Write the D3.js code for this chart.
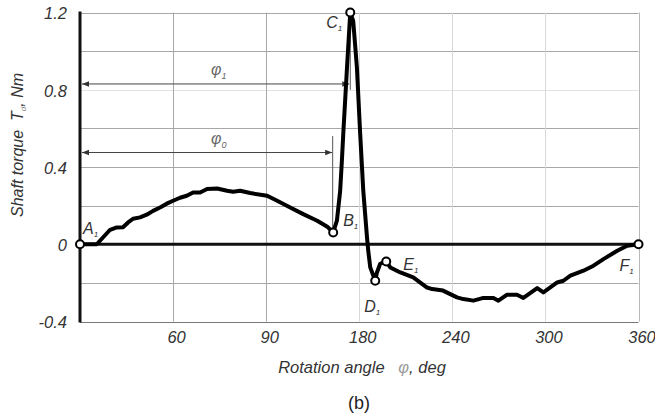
<!DOCTYPE html>
<html>
<head>
<meta charset="utf-8">
<script src="https://cdn.jsdelivr.net/npm/d3@7"></script>
<style>
  html, body { margin: 0; padding: 0; background: #fff; }
  svg { display: block; font-family: "Liberation Sans", Arial, sans-serif; }
</style>
</head>
<body>
<svg id="chart" width="655" height="414"></svg>
<script>
// ---- data ----
const angle = [0, 10.8, 14.8, 19.4, 23.7, 27.7, 31, 34.2, 38.7, 43, 47.1, 51.6, 55.9, 60, 64.5, 68.8, 72.9, 77.4, 81.9, 88.4, 94.8, 98.7, 103.2, 109.7, 120.6, 127.1, 135.5, 143.9, 152.9, 159.4, 163.2,
  165.6, 167.7, 168.8, 169.7, 172.1, 174.2, 176.1, 178.5, 180.6, 182.6, 185, 185.8, 187.1, 190.3,
  191.4, 193.5, 197.4, 200, 206.5, 214.8, 223.7, 227, 234, 243, 247.1, 253.6, 260, 266.5, 269.7, 275.3, 281.7, 285.8, 294.7, 298.7, 307.6, 311.6, 316.1, 324.5, 331, 337.4, 346.3, 352.7, 360];
const torque = [0, 0, 0.035, 0.075, 0.087, 0.088, 0.113, 0.132, 0.139, 0.153, 0.173, 0.19, 0.21, 0.225, 0.241, 0.251, 0.268, 0.268, 0.286, 0.289, 0.277, 0.272, 0.277, 0.265, 0.251, 0.225, 0.19, 0.156, 0.122, 0.091, 0.061,
  0.122, 0.277, 0.432, 0.572, 0.915, 1.2, 1.157, 0.915, 0.572, 0.277, 0.035, -0.034, -0.12, -0.189,
  -0.146, -0.101, -0.089, -0.12, -0.146, -0.172, -0.224, -0.232, -0.24, -0.275, -0.284, -0.292, -0.278, -0.278, -0.292, -0.261, -0.261, -0.278, -0.227, -0.249, -0.198, -0.189, -0.163, -0.137, -0.111, -0.077, -0.034, -0.008, 0];

const pointNames = ["A", "B", "C", "D", "E", "F"];
const pointAngles = [0, 163.2, 174.2, 190.3, 197.4, 360];
const pointTorques = [0, 0.061, 1.2, -0.189, -0.089, 0];

const xTickValues = [60, 120, 180, 240, 300, 360];
const xTickLabels = ["60", "90", "180", "240", "300", "360"];
const yTickValues = [1.2, 0.8, 0.4, 0, -0.4];
const yTickLabels = ["1.2", "0.8", "0.4", "0", "-0.4"];
const yGridValues = [1.2, 1.0, 0.8, 0.6, 0.4, 0.2, -0.2, -0.4];
const xGridValues = [60, 120, 180, 240, 300, 360];

const phiAngles = [174.2, 163.2];   // φ1, φ0
const phiLevels = [0.83, 0.475];    // torque level of dimension arrows

// ---- drawing ----
const FONT = "Liberation Sans, Arial, sans-serif";
const svg = d3.select("#chart");
const x = d3.scaleLinear().domain([0, 360]).range([80, 638.5]);
const y = d3.scaleLinear().domain([-0.4, 1.2]).range([321.5, 12.5]);

const defs = svg.append("defs");
["arrEnd", "arrStart"].forEach((id, i) => {
  defs.append("marker").attr("id", id).attr("viewBox", "0 0 10 10")
    .attr("refX", i === 0 ? 10 : 0).attr("refY", 5)
    .attr("markerWidth", 11).attr("markerHeight", 7).attr("markerUnits", "userSpaceOnUse")
    .attr("orient", "auto")
    .append("path").attr("d", i === 0 ? "M0,1 L10,5 L0,9 Z" : "M10,1 L0,5 L10,9 Z").attr("fill", "#333");
});

// grid
const faintY = new Set([0.8]);
svg.append("g").selectAll("line").data(yGridValues).join("line")
  .attr("x1", x(0)).attr("x2", x(360))
  .attr("y1", d => Math.round(y(d)) + 0.5).attr("y2", d => Math.round(y(d)) + 0.5)
  .attr("stroke", d => faintY.has(d) ? "#e2e2e2" : (d === -0.4 ? "#777" : "#a8a8a8")).attr("stroke-width", 1);
svg.append("g").selectAll("line").data(xGridValues).join("line")
  .attr("x1", d => Math.round(x(d)) + 0.5).attr("x2", d => Math.round(x(d)) + 0.5)
  .attr("y1", y(1.2)).attr("y2", y(-0.4))
  .attr("stroke", d => d <= 120 ? "#a8a8a8" : (d === 360 ? "#b8b8b8" : "#d8d8d8")).attr("stroke-width", 1);

// axes via d3 axis generators (labels only)
const xAxis = d3.axisBottom(x).tickValues(xTickValues)
  .tickFormat((d, i) => xTickLabels[i]).tickSize(0).tickPadding(0);
const gx = svg.append("g").attr("transform", `translate(3,${y(-0.4) + 10})`).call(xAxis);
gx.select(".domain").remove();
gx.selectAll("text").attr("font-size", 16.5).attr("font-style", "italic").attr("fill", "#333")
  .attr("font-family", FONT);

const yAxis = d3.axisLeft(y).tickValues(yTickValues)
  .tickFormat((d, i) => yTickLabels[i]).tickSize(0).tickPadding(0);
const gy = svg.append("g").attr("transform", `translate(67,1)`).call(yAxis);
gy.select(".domain").remove();
gy.selectAll("text").attr("font-size", 16.5).attr("font-style", "italic").attr("fill", "#333")
  .attr("font-family", FONT);

// zero line & y axis line
svg.append("line").attr("x1", x(0)).attr("x2", x(360)).attr("y1", y(0)).attr("y2", y(0))
  .attr("stroke", "#111").attr("stroke-width", 3);
svg.append("line").attr("x1", x(0)).attr("x2", x(0)).attr("y1", y(1.2) - 1).attr("y2", y(-0.4) + 1)
  .attr("stroke", "#111").attr("stroke-width", 3);

// dimension arrows
phiLevels.forEach((lv, i) => {
  svg.append("line").attr("x1", x(0) + 2).attr("x2", x(phiAngles[i]) - 1)
    .attr("y1", y(lv)).attr("y2", y(lv)).attr("stroke", "#444").attr("stroke-width", 1)
    .attr("marker-end", "url(#arrEnd)").attr("marker-start", "url(#arrStart)");
});
svg.append("line").attr("x1", x(phiAngles[0])).attr("x2", x(phiAngles[0]))
  .attr("y1", y(1.15)).attr("y2", y(0.8)).attr("stroke", "#555").attr("stroke-width", 1);
svg.append("line").attr("x1", x(phiAngles[1]) - 0.5).attr("x2", x(phiAngles[1]) - 0.5)
  .attr("y1", y(0.56)).attr("y2", y(0.07)).attr("stroke", "#555").attr("stroke-width", 1);

const phiLab = [["1", 0.9], ["0", 0.545]];
phiLab.forEach(([sub, lv]) => {
  const t = svg.append("text").attr("x", 211).attr("y", y(lv) + 5)
    .attr("font-size", 16).attr("font-style", "italic").attr("fill", "#666");
  t.append("tspan").text("φ");
  t.append("tspan").attr("font-size", 9).attr("dy", 4).text(sub);
});

// curve
const line = d3.line().x((d, i) => x(angle[i])).y((d, i) => y(torque[i])).curve(d3.curveLinear);
svg.append("path").datum(torque).attr("d", line)
  .attr("fill", "none").attr("stroke", "#000").attr("stroke-width", 4)
  .attr("stroke-linejoin", "round").attr("stroke-linecap", "round");

// key points
svg.append("g").selectAll("circle").data(pointNames).join("circle")
  .attr("cx", (d, i) => x(pointAngles[i])).attr("cy", (d, i) => y(pointTorques[i]))
  .attr("r", 4).attr("fill", "#fff").attr("stroke", "#000").attr("stroke-width", 2);

const labelOffsets = { A: [3, -10], B: [10, -6], C: [-24, 15], D: [-11, 31], E: [17, 9], F: [-19, 27] };
pointNames.forEach((n, i) => {
  const [dx, dy] = labelOffsets[n];
  const t = svg.append("text").attr("x", x(pointAngles[i]) + dx).attr("y", y(pointTorques[i]) + dy)
    .attr("font-size", 16).attr("font-style", "italic").attr("fill", "#333");
  t.append("tspan").text(n);
  t.append("tspan").attr("font-size", 8).attr("dy", 3).text("1");
});

// axis titles
const yt = svg.append("text").attr("transform", "translate(23,145) rotate(-90)")
  .attr("text-anchor", "middle").attr("font-size", 16).attr("font-style", "italic").attr("fill", "#333");
yt.append("tspan").text("Shaft torque\u00a0\u00a0T");
yt.append("tspan").attr("font-size", 8).attr("dy", 3).attr("fill", "#888").text("d");
yt.append("tspan").attr("dy", -3).text(", Nm");

const xt = svg.append("text").attr("x", 362).attr("y", 373)
  .attr("text-anchor", "middle").attr("font-size", 16.5).attr("font-style", "italic").attr("fill", "#333");
xt.append("tspan").text("Rotation angle\u00a0\u00a0 ");
xt.append("tspan").attr("fill", "#999").text("φ");
xt.append("tspan").text(", deg");

svg.append("text").attr("x", 359).attr("y", 409).attr("text-anchor", "middle")
  .attr("font-size", 18).attr("fill", "#222").text("(b)");
</script>
</body>
</html>
